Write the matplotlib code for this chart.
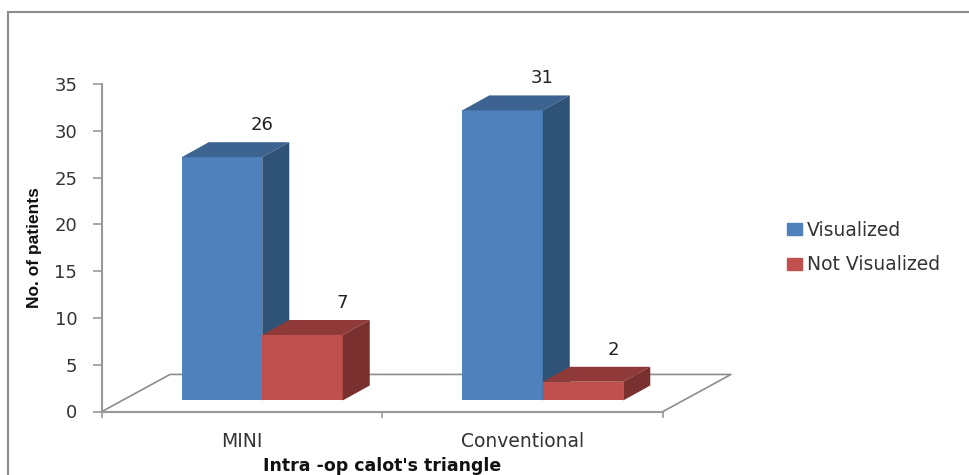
import matplotlib
matplotlib.use('Agg')
import numpy as np
import matplotlib.pyplot as plt
from matplotlib.patches import Patch, Rectangle

categories = ['MINI', 'Conventional']
series_names = ['Visualized', 'Not Visualized']
visualized = [26, 31]
not_visualized = [7, 2]
y_ticks = [0, 5, 10, 15, 20, 25, 30, 35]

# front, top and side shades of each series
blue = ['#4F81BD', '#3D6391', '#2F5277']
red = ['#C0504D', '#8F3A38', '#7A302E']

# 3D look, all in data units
BAR_W = 0.287
SHIFT_X, SHIFT_Y = 0.0713, 1.18  # bars stand part way back on the floor
DEPTH_X, DEPTH_Y = 0.0963, 1.6  # depth of a bar
FLOOR_X, FLOOR_Y = 0.2424, 3.96  # depth of the floor


def bar_3d(ax, x, value, shades):
    """Draw one bar as a front face plus top and side faces."""
    base = SHIFT_Y
    top = base + value
    right = x + BAR_W
    ax.bar(x, value, BAR_W, bottom=base, align='edge', color=shades[0],
           linewidth=0, clip_on=False, zorder=3)
    ax.fill([x, right, right + DEPTH_X, x + DEPTH_X],
            [top, top, top + DEPTH_Y, top + DEPTH_Y],
            color=shades[1], lw=0, clip_on=False, zorder=3)
    ax.fill([right, right + DEPTH_X, right + DEPTH_X, right],
            [base, base + DEPTH_Y, top + DEPTH_Y, top],
            color=shades[2], lw=0, clip_on=False, zorder=3)


W, H = 970, 475
plt.rcParams['font.family'] = 'DejaVu Sans'
fig = plt.figure(figsize=(W / 100, H / 100), dpi=100)

# outer chart border runs off the right and bottom edges
fig.add_artist(Rectangle((8 / W, -0.1), 1.1, 0.1 + (H - 12) / H,
                         transform=fig.transFigure, fill=False,
                         edgecolor='#8C8C8C', linewidth=1.5))

ax = fig.add_axes([102 / W, (H - 411.5) / H, 561 / W, 327.5 / H])
ax.set_xlim(0, 2)
ax.set_ylim(0, 35)

# floor of the 3D plot
ax.plot([0, FLOOR_X, 2 + FLOOR_X, 2], [0, FLOOR_Y, FLOOR_Y, 0], color='#8C8C8C',
        lw=1.2, clip_on=False, zorder=1)

for i in range(len(categories)):
    center = i + 0.5 + SHIFT_X
    bar_3d(ax, center - BAR_W, visualized[i], blue)
    bar_3d(ax, center, not_visualized[i], red)

# value labels sit up and to the right of each bar
label_dx = [[0.143, 0.14], [0.143, 0.107]]
for i in range(len(categories)):
    center = i + 0.5 + SHIFT_X
    for j, vals in enumerate([visualized, not_visualized]):
        x = center + (j - 1) * BAR_W + BAR_W / 2 + label_dx[i][j]
        ax.annotate(str(vals[i]), (x, vals[i] + SHIFT_Y), xytext=(0, 32 * 0.72),
                    textcoords='offset points', ha='center', va='center',
                    fontsize=13, color='#222222', annotation_clip=False)

for s in ['top', 'right']:
    ax.spines[s].set_visible(False)
for s in ['left', 'bottom']:
    ax.spines[s].set_color('#999999')
    ax.spines[s].set_linewidth(1.5)

ax.set_yticks(y_ticks)
ax.tick_params(axis='y', length=6.5, width=1.2, color='#999999', pad=11.3,
               labelsize=13, labelcolor='#333333')
ax.set_xticks([0, 1, 2])
ax.set_xticklabels([])
ax.tick_params(axis='x', length=4, width=1.2, color='#999999')
ax.set_xticks(np.arange(len(categories)) + 0.5, minor=True)
ax.set_xticklabels(categories, minor=True)
ax.tick_params(axis='x', which='minor', length=0, pad=15, labelsize=13.5,
               labelcolor='#333333')

ax.set_xlabel("Intra -op calot's triangle", fontsize=12.5, fontweight='bold',
              color='#111111', labelpad=4)
ax.set_ylabel('No. of patients', family='Liberation Sans',
              fontsize=12.5, fontweight='bold', color='#111111', va='center')
ax.yaxis.set_label_coords(-(102 - 35) / 561, 0.5)

handles = [Patch(color=blue[0]), Patch(color=red[0])]
fig.legend(handles, series_names, loc='center left',
           bbox_to_anchor=(770 / W, (H - 247.5) / H), frameon=False, fontsize=13.5,
           labelcolor='#333333', handlelength=0.8, handleheight=0.6,
           handletextpad=0.25, labelspacing=0.85)

fig.savefig('out.png', dpi=100)
